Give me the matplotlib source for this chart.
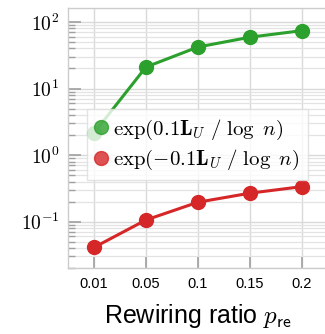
import numpy as np
import matplotlib
matplotlib.use("Agg")
import matplotlib.pyplot as plt
from matplotlib.lines import Line2D
from matplotlib.ticker import LogLocator, NullFormatter, FuncFormatter

plt.rcParams['mathtext.fontset'] = 'cm'
plt.rcParams['font.family'] = ['Liberation Sans', 'DejaVu Sans']

# data
ratios = ['0.01', '0.05', '0.1', '0.15', '0.2']
pos_vals = [2.14, 21.0, 42.0, 59.0, 74.0]
neg_vals = [0.041, 0.106, 0.196, 0.268, 0.336]
labels = [r'$\exp(0.1\mathbf{L}_{U}\ /\ \log\ n)$',
          r'$\exp(-0.1\mathbf{L}_{U}\ /\ \log\ n)$']
colors = ['#2ca02c', '#d62728']

fig = plt.figure(figsize=(3.25, 3.34), dpi=100)
ax = fig.add_axes([0.209, 0.197, 0.800, 0.778])

x = np.arange(len(ratios))
for vals, c in zip([pos_vals, neg_vals], colors):
    ax.plot(x, vals, color=c, lw=2.2, marker='o', ms=10, zorder=3)

ax.set_yscale('log')
ax.set_ylim(0.02, 160)
ax.set_xlim(-0.5, len(ratios) - 0.5)
ax.set_xticks(x)
ax.set_xticklabels(ratios, fontsize=10.5)
ax.yaxis.set_major_locator(LogLocator(base=10, numticks=10))
ax.yaxis.set_major_formatter(FuncFormatter(lambda v, p: r'$10^{%d}$' % round(np.log10(v))))
ax.yaxis.set_minor_locator(LogLocator(base=10, subs=np.arange(2, 10), numticks=20))
ax.yaxis.set_minor_formatter(NullFormatter())
ax.tick_params(axis='y', which='major', labelsize=14)

ax.grid(True, which='major', color='#d9d9d9', lw=1.0)
ax.grid(True, which='minor', axis='y', color='#e3e3e3', lw=0.9)
ax.tick_params(which='major', direction='in', length=9, width=1.2, color='#a0a0a0', pad=6)
ax.tick_params(which='minor', direction='in', length=5, width=1.0, color='#a0a0a0')
for s in ax.spines.values():
    s.set_color('#cccccc')
    s.set_linewidth(1.0)
ax.set_axisbelow(True)

ax.set_xlabel(r'Rewiring ratio $p_{\mathsf{re}}$', fontsize=18, labelpad=8)

handles = [Line2D([], [], ls='none', marker='o', ms=10, color=c, alpha=0.8)
           for c in colors]
leg = ax.legend(handles, labels, loc='upper left', bbox_to_anchor=(0.073, 0.612),
                borderaxespad=0, fontsize=15, handlelength=0.55, handletextpad=0.3,
                fancybox=False, framealpha=0.8, edgecolor='#dddddd',
                borderpad=0.4, labelspacing=0.3)
leg.set_zorder(5)

fig.savefig('out.png', dpi=100)
